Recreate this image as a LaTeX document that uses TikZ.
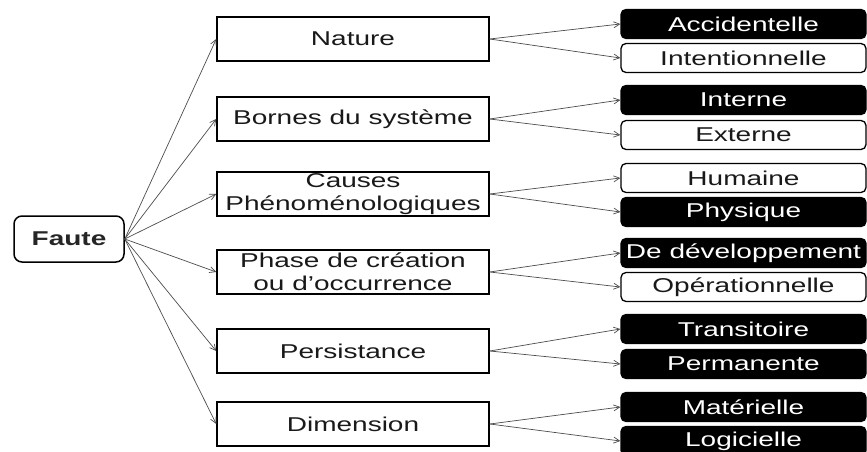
\documentclass[tikz,border=0pt]{standalone}
\usepackage{fontspec}
\newfontfamily\diagfont[FakeStretch=1.4]{Liberation Sans}
\usetikzlibrary{arrows.meta}
\begin{document}
\begin{tikzpicture}[x=1pt,y=-1pt,
  txt/.style={font=\diagfont\fontsize{20}{23}\selectfont, align=center, inner sep=0pt},
  root/.style={txt, draw=black, line width=1.5pt, rounded corners=8pt,
    minimum width=110pt, minimum height=46pt, font=\diagfont\bfseries\fontsize{20}{23}\selectfont, text=black!85},
  cat/.style={txt, draw=black, line width=1.5pt, minimum width=272pt, minimum height=44pt, text=black!90},
  leafw/.style={txt, draw=black, line width=1.3pt, rounded corners=5pt, fill=white,
    minimum width=245pt, minimum height=29pt, text=black!90},
  leafb/.style={txt, draw=black, line width=1.3pt, rounded corners=5pt, fill=black,
    minimum width=245pt, minimum height=29pt, text=white},
  arr/.style={draw=black!70, line width=0.7pt, -{Straight Barb[length=6pt,width=6pt]}}]
\path[use as bounding box] (0,0) rectangle (867,452);
\clip (0,0) rectangle (867,452);

% root
\node[root] (fa) at (69,239) {Faute};

% categories
\node[cat] (nat) at (353,39)  {Nature};
\node[cat] (bor) at (353,119) {Bornes du système};
\node[cat] (cau) at (353,194) {Causes\\Phénoménologiques};
\node[cat] (pha) at (353,272) {Phase de création\\ou d’occurrence};
\node[cat] (per) at (353,351) {Persistance};
\node[cat] (dim) at (353,424) {Dimension};

% leaves
\node[leafb] (acc) at (743.5,24)  {Accidentelle};
\node[leafw] (int) at (743.5,58)  {Intentionnelle};
\node[leafb] (inr) at (743.5,100) {Interne};
\node[leafw] (ext) at (743.5,135) {Externe};
\node[leafw] (hum) at (743.5,178) {Humaine};
\node[leafb] (phy) at (743.5,212) {Physique};
\node[leafb] (dev) at (743.5,253) {De développement};
\node[leafw] (ope) at (743.5,287) {Opérationnelle};
\node[leafb] (tra) at (743.5,329) {Transitoire};
\node[leafb] (prm) at (743.5,364) {Permanente};
\node[leafb] (mat) at (743.5,407) {Matérielle};
\node[leafb] (log) at (743.5,441) {Logicielle};

% root to categories
\foreach \c in {nat,bor,cau,pha,per,dim}
  \draw[arr] (fa.east) -- (\c.west);

% categories to leaves
\foreach \c/\a/\b in {nat/acc/int, bor/inr/ext, cau/hum/phy, pha/dev/ope, per/tra/prm, dim/mat/log}{
  \draw[arr] (\c.east) -- (\a.west);
  \draw[arr] (\c.east) -- (\b.west);
}
\end{tikzpicture}
\end{document}
